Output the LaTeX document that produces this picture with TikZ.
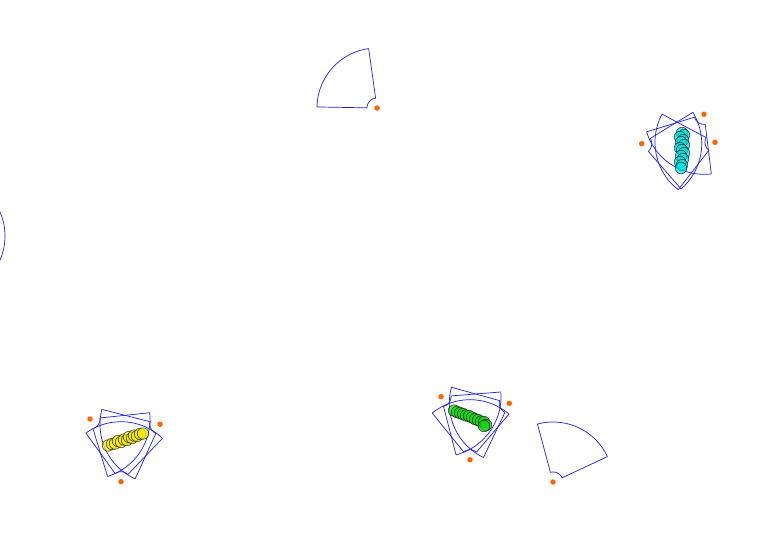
\documentclass[tikz,border=0pt]{standalone}
\usepackage{tikz}
\definecolor{dotorange}{RGB}{255,102,0}
\definecolor{secblue}{RGB}{30,30,240}
\definecolor{cyanc}{RGB}{0,225,225}
\definecolor{greenc}{RGB}{20,215,20}
\definecolor{yellowc}{RGB}{245,235,0}
\tikzset{
  secline/.style={draw=secblue, line width=0.7pt, line join=round},
  sensor/.style={circle, fill=dotorange, inner sep=0pt, minimum size=5.5pt},
  blob/.style={circle, draw=black, line width=0.5pt, draw opacity=0.8, fill opacity=0.7, inner sep=0pt, minimum size=11.5pt}
}
% \fov{name}{start}{end}: sector of the field of view around node name
\newcommand{\fov}[3]{%
  \draw[secline, shift={(#1)}] plot[domain=#2:#3, samples=40] (\x:60) -- plot[domain=#3:#2, samples=12] (\x:10) -- cycle;%
}
\begin{document}
\begin{tikzpicture}[x=1pt, y=-1pt]
\useasboundingbox (0,0) rectangle (759,555);
\clip (0,0) rectangle (759,555);

% lone sectors
\node[sensor] (s1) at (377,108) {};
\fov{s1.center}{181}{262}
\node[sensor] (s2) at (553,482) {};
\fov{s2.center}{255}{335}
\coordinate (s0) at (-55,236);
\fov{s0}{-40}{40}

% yellow group
\node[sensor] (y1) at (90,419) {};
\node[sensor] (y2) at (160,424.3) {};
\node[sensor] (y3) at (121,481.7) {};
\fov{y1.center}{-6}{73}
\fov{y2.center}{114.5}{194.4}
\fov{y3.center}{-125.8}{-46.3}
\foreach \px/\py [count=\k] in {108/445.5,112/444,115/443.5,118/441,121/442,124/439.5,127/440,129/437,132/438,134/435.5,137/436,140/434,143/433.5}{
  \node[blob, fill=yellowc] (yb\k) at (\px,\py) {};
}

% green group
\node[sensor] (g1) at (441,396.7) {};
\node[sensor] (g2) at (509.3,403.3) {};
\node[sensor] (g3) at (470,459.7) {};
\fov{g1.center}{-4.5}{75.5}
\fov{g2.center}{115.5}{195.5}
\fov{g3.center}{-129}{-49.5}
\foreach \px/\py [count=\k] in {454/410.5,457/412,460/413,463/414,466/415.5,469/416,472/417.5,475/419,478/420,481/421.5,484/422,486/425,484/426}{
  \node[blob, fill=greenc] (gb\k) at (\px,\py) {};
}

% cyan group
\node[sensor] (c1) at (704,114.3) {};
\node[sensor] (c2) at (641.7,143.7) {};
\node[sensor] (c3) at (715,142.3) {};
\fov{c1.center}{83}{163}
\fov{c2.center}{-31.5}{49}
\fov{c3.center}{127.8}{208}
\foreach \px/\py [count=\k] in {682/133,684/135,680/137,683/140,681/142,684/145,680/148,682/150,684/153,681/156,683/159,680/162,682/165,681/168}{
  \node[blob, fill=cyanc] (cb\k) at (\px,\py) {};
}
\end{tikzpicture}
\end{document}
